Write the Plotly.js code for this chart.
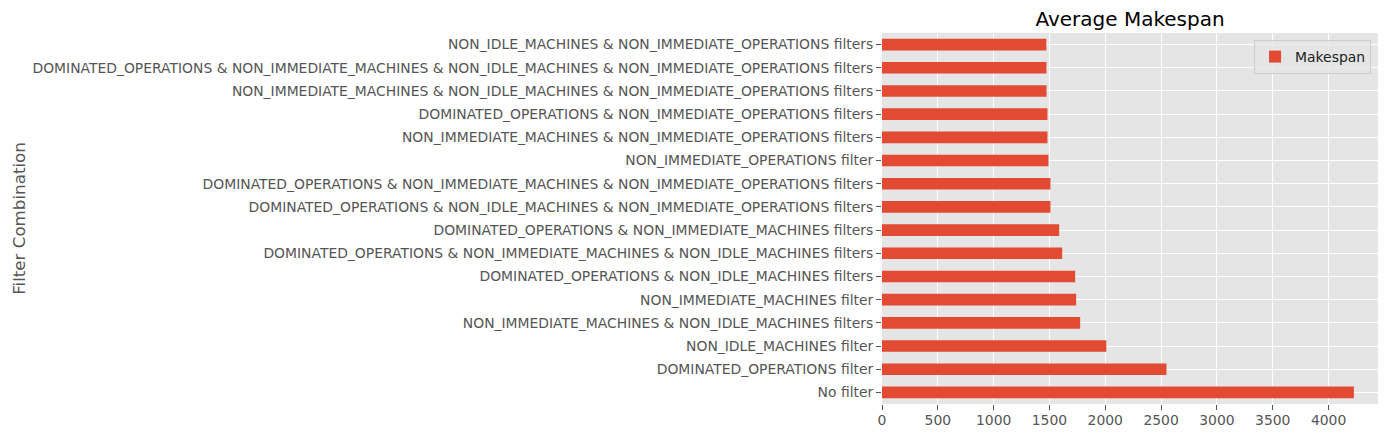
<!DOCTYPE html>
<html>
<head>
<meta charset="utf-8">
<script src="https://cdn.plot.ly/plotly-3.0.1.min.js"></script>
<style>html,body{margin:0;padding:0;background:#fff;}#chart{width:1388px;height:436px;}</style>
</head>
<body>
<div id="chart"></div>
<script>
// Categories listed bottom-to-top as drawn
const categories = [
  "No filter",
  "DOMINATED_OPERATIONS filter",
  "NON_IDLE_MACHINES filter",
  "NON_IMMEDIATE_MACHINES & NON_IDLE_MACHINES filters",
  "NON_IMMEDIATE_MACHINES filter",
  "DOMINATED_OPERATIONS & NON_IDLE_MACHINES filters",
  "DOMINATED_OPERATIONS & NON_IMMEDIATE_MACHINES & NON_IDLE_MACHINES filters",
  "DOMINATED_OPERATIONS & NON_IMMEDIATE_MACHINES filters",
  "DOMINATED_OPERATIONS & NON_IDLE_MACHINES & NON_IMMEDIATE_OPERATIONS filters",
  "DOMINATED_OPERATIONS & NON_IMMEDIATE_MACHINES & NON_IMMEDIATE_OPERATIONS filters",
  "NON_IMMEDIATE_OPERATIONS filter",
  "NON_IMMEDIATE_MACHINES & NON_IMMEDIATE_OPERATIONS filters",
  "DOMINATED_OPERATIONS & NON_IMMEDIATE_OPERATIONS filters",
  "NON_IMMEDIATE_MACHINES & NON_IDLE_MACHINES & NON_IMMEDIATE_OPERATIONS filters",
  "DOMINATED_OPERATIONS & NON_IMMEDIATE_MACHINES & NON_IDLE_MACHINES & NON_IMMEDIATE_OPERATIONS filters",
  "NON_IDLE_MACHINES & NON_IMMEDIATE_OPERATIONS filters"
];
const makespan = [4227, 2548, 2009, 1775, 1739, 1730, 1614, 1587, 1509, 1509, 1491, 1482, 1482, 1474, 1473, 1472];
const xTicks = [0, 500, 1000, 1500, 2000, 2500, 3000, 3500, 4000];
const seriesName = "Makespan";
const chartTitle = "Average Makespan";
const yTitle = "Filter Combination";

const FONT = "DejaVu Sans, sans-serif";
const trace = {
  type: "bar",
  orientation: "h",
  x: makespan,
  y: categories,
  name: seriesName,
  width: 0.5,
  marker: {color: "#E24A33", line: {width: 0}},
  showlegend: true,
  hoverinfo: "x+y"
};
const layout = {
  width: 1388,
  height: 436,
  margin: {l: 882, r: 10, t: 33, b: 32, pad: 0},
  paper_bgcolor: "#ffffff",
  plot_bgcolor: "#E5E5E5",
  font: {family: FONT, size: 13.9, color: "#555555"},
  title: {
    text: chartTitle,
    font: {family: FONT, size: 20, color: "#000000"},
    x: 0.5, xref: "paper", xanchor: "center",
    y: 1 - 19/436, yref: "container", yanchor: "middle"
  },
  xaxis: {
    range: [0, 4443],
    tickvals: xTicks,
    ticktext: xTicks.map(String),
    showgrid: true, gridcolor: "#ffffff", gridwidth: 1,
    zeroline: false, showline: false,
    ticks: "outside", ticklen: 5, tickwidth: 1, tickcolor: "#555555",
    ticklabelstandoff: -2,
    tickfont: {family: FONT, size: 13.9, color: "#555555"},
    automargin: false, fixedrange: true
  },
  yaxis: {
    type: "category",
    categoryorder: "array",
    categoryarray: categories,
    range: [-0.5, categories.length - 0.5],
    showgrid: true, gridcolor: "#ffffff", gridwidth: 1,
    zeroline: false, showline: false,
    ticks: "outside", ticklen: 5, tickwidth: 1, tickcolor: "#555555",
    ticklabelstandoff: 0,
    tickfont: {family: FONT, size: 13.9, color: "#555555"},
    title: {text: yTitle, font: {family: FONT, size: 16.7, color: "#555555"}, standoff: 2},
    automargin: false, fixedrange: true
  },
  legend: {
    x: 0.986, xanchor: "right", y: 0.981, yanchor: "top",
    bgcolor: "rgba(229,229,229,0.8)", bordercolor: "#CCCCCC", borderwidth: 1,
    font: {family: FONT, size: 13.9, color: "#222222"}
  },
  bargap: 0.5
};
Plotly.newPlot("chart", [trace], layout, {displayModeBar: false, staticPlot: true});
</script>
</body>
</html>
